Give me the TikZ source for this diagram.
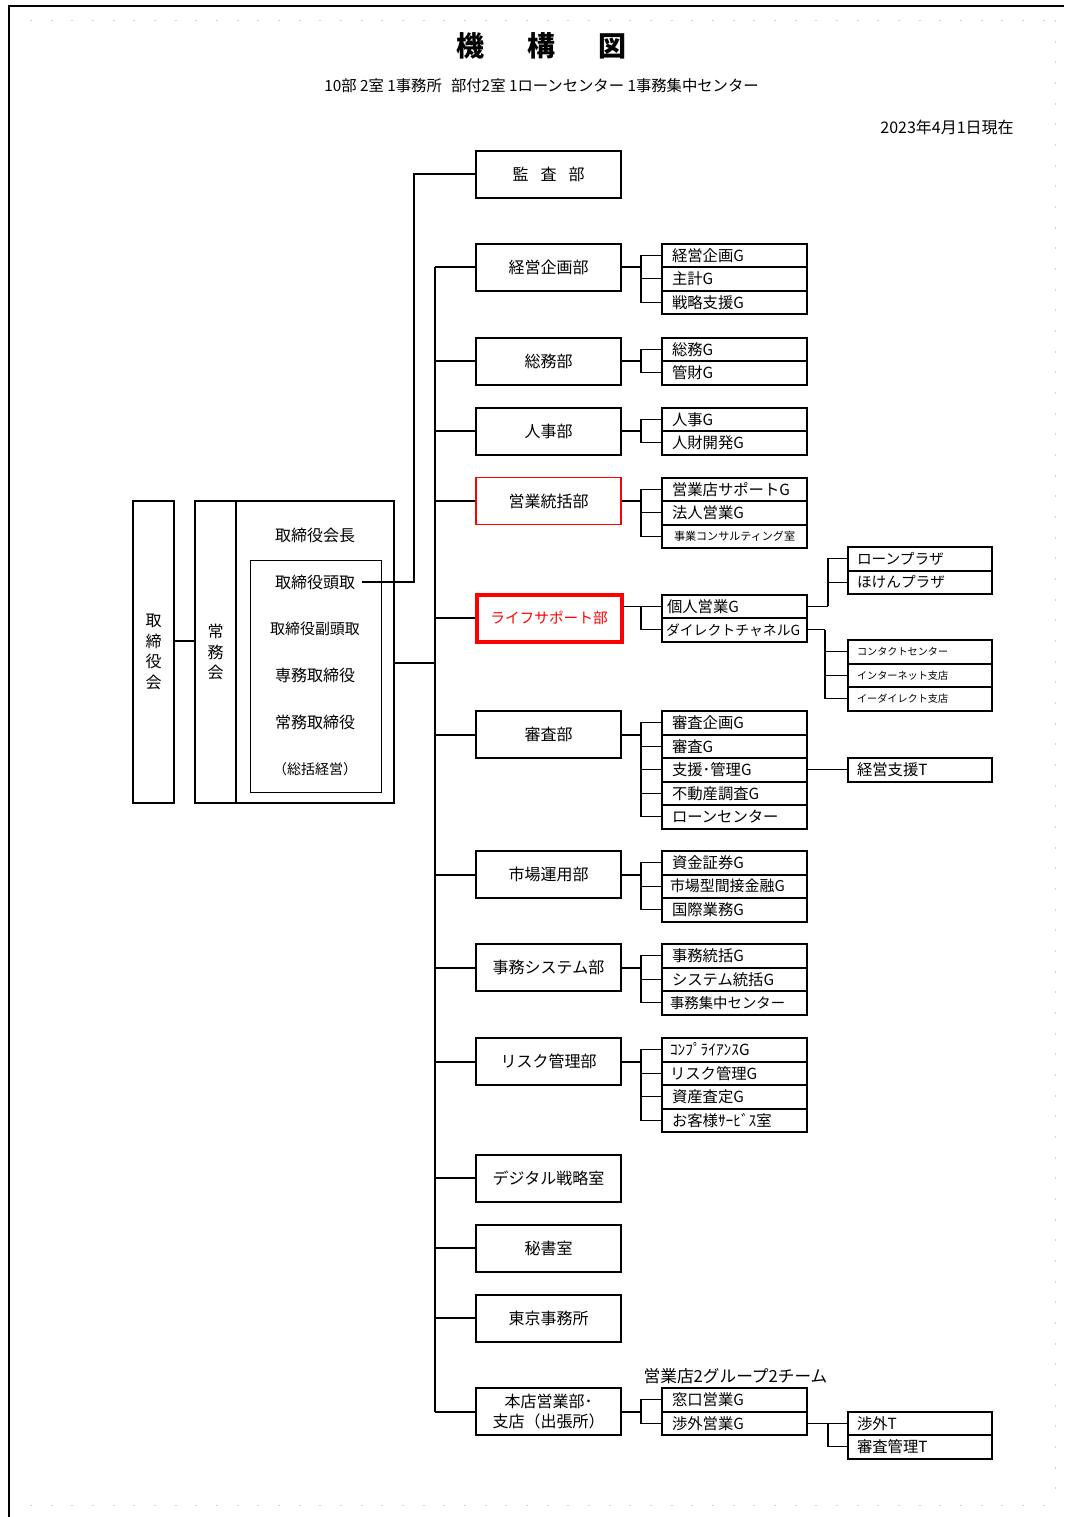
\documentclass[tikz,border=0pt]{standalone}
\usepackage{fontspec}
\setmainfont{Noto Sans CJK JP}
\usetikzlibrary{calc}
\newcommand\szD{\fontsize{12}{14}\selectfont}
\newcommand\szG{\fontsize{11.5}{13}\selectfont}
\newcommand\szS{\fontsize{7.6}{9}\selectfont}
\begin{document}
\begin{tikzpicture}[x=0.75pt,y=-0.75pt,
  dept/.style={draw, line width=1.5pt, minimum width=108.75pt, minimum height=35.25pt, inner sep=0pt, font=\szD},
  grp/.style={draw, line width=1.5pt, minimum width=108.75pt, minimum height=17.625pt, text width=93.75pt, inner xsep=7.5pt, inner ysep=0pt, align=left, font=\szG},
  sub/.style={grp, minimum width=108pt, text width=94.5pt, inner xsep=6.75pt},
  main/.style={line width=1.5pt},
  brk/.style={line width=0.8pt},
  mid/.style={line width=1.1pt},
  txt/.style={inner sep=0pt, font=\szD},
  pgbrk/.style={gray!35, line width=0.6pt, dash pattern=on 1.5pt off 14pt}]
\useasboundingbox (0,0) rectangle (1064,1517);
% frame and page-break marks
\draw[line width=1.8pt] (9,1517) -- (9,6) -- (1064,6);
\draw[pgbrk] (30,20) -- (1050,20);
\draw[pgbrk] (30,1505) -- (1050,1505);
\draw[pgbrk] (1055,20) -- (1055,1505);
% titles
\node (title) at (541.5,46) {\fontsize{21}{24}\selectfont\bfseries 機\hspace{1.55em}構\hspace{1.55em}図};
\node (subtitle) at (541.5,86) {\fontsize{11.5}{13}\selectfont 10部 2室 1事務所\hspace{0.6em}部付2室 1ローンセンター 1事務集中センター};
\node[anchor=east, inner sep=0pt] (date) at (1014,127) {\fontsize{12}{14}\selectfont 2023年4月1日現在};
% left block
\node[draw, main, minimum width=30.75pt, minimum height=226.5pt, inner sep=0pt, align=center, font=\fontsize{12}{15.5}\selectfont] (tbk) at (153.5,652) {取\\締\\役\\会};
\node[draw, main, minimum width=30.75pt, minimum height=226.5pt, inner sep=0pt, align=center, font=\fontsize{12}{15.5}\selectfont] (jmk) at (215.5,652) {常\\務\\会};
\node[draw, main, minimum width=118.5pt, minimum height=226.5pt] (exec) at (315,652) {};
\node[draw, line width=0.75pt, minimum width=98.25pt, minimum height=174pt] (inner) at (315.5,676) {};
\node[txt] (kaicho) at (315,535) {取締役会長};
\node[txt, inner xsep=5pt] (pres) at (315,582) {取締役頭取};
\node[txt, font=\fontsize{11.2}{13}\selectfont] (vpres) at (315,629) {取締役副頭取};
\node[txt] (senmu) at (315,675) {専務取締役};
\node[txt] (jomu) at (315,722) {常務取締役};
\node[txt, font=\fontsize{10.5}{13}\selectfont] (sokatsu) at (315,769) {（総括経営）};
% departments
\node[dept] (kansa) at (548.5,174) {監\hspace{0.75em}査\hspace{0.75em}部};
\node[dept] (keiei) at (548.5,267) {経営企画部};
\node[dept] (somu) at (548.5,361) {総務部};
\node[dept] (jinji) at (548.5,431) {人事部};
\node[dept, draw=red, line width=1.3pt] (eigyo) at (548.5,501) {営業統括部};
\node[dept, draw=red, line width=3pt, text=red, font=\fontsize{11}{13}\selectfont] (life) at (549,618) {ライフサポート部};
\node[dept] (shinsa) at (548.5,734.5) {審査部};
\node[dept] (shijo) at (548.5,874.5) {市場運用部};
\node[dept] (jimu) at (548.5,967.5) {事務システム部};
\node[dept] (risk) at (548.5,1061.5) {リスク管理部};
\node[dept] (digi) at (548.5,1178) {デジタル戦略室};
\node[dept] (hisho) at (548.5,1248) {秘書室};
\node[dept] (tokyo) at (548.5,1318) {東京事務所};
\node[dept, align=center, font=\fontsize{12}{15.5}\selectfont] (honten) at (548.5,1411.5) {本店営業部･\\支店（出張所）};
% groups
\node[grp] (g11) at (734.5,255.25) {経営企画G};
\node[grp] (g12) at (734.5,278.75) {主計G};
\node[grp] (g13) at (734.5,302.25) {戦略支援G};
\node[grp] (g21) at (734.5,349.25) {総務G};
\node[grp] (g22) at (734.5,372.75) {管財G};
\node[grp] (g31) at (734.5,419.25) {人事G};
\node[grp] (g32) at (734.5,442.75) {人財開発G};
\node[grp] (g41) at (734.5,489.25) {営業店サポートG};
\node[grp] (g42) at (734.5,512.75) {法人営業G};
\node[grp, font=\fontsize{8.3}{10}\selectfont, inner xsep=9pt, text width=90.75pt] (g43) at (734.5,536.25) {事業コンサルティング室};
\node[grp, inner xsep=3.75pt, text width=101.25pt] (g51) at (734.5,606.25) {個人営業G};
\node[grp, inner xsep=3pt, text width=102.75pt, font=\fontsize{10.4}{12}\selectfont] (g52) at (734.5,629.75) {ダイレクトチャネルG};
\node[grp] (g71) at (734.5,722.75) {審査企画G};
\node[grp] (g72) at (734.5,746.25) {審査G};
\node[grp] (g73) at (734.5,769.75) {支援･管理G};
\node[grp] (g74) at (734.5,793.25) {不動産調査G};
\node[grp] (g75) at (734.5,816.75) {ローンセンター};
\node[grp] (g81) at (734.5,862.75) {資金証券G};
\node[grp, inner xsep=6pt, text width=96.75pt, font=\fontsize{11.2}{13}\selectfont] (g82) at (734.5,886.25) {市場型間接金融G};
\node[grp] (g83) at (734.5,909.75) {国際業務G};
\node[grp] (g91) at (734.5,955.75) {事務統括G};
\node[grp] (g92) at (734.5,979.25) {システム統括G};
\node[grp, inner xsep=6pt, text width=96.75pt, font=\fontsize{10.8}{13}\selectfont] (g93) at (734.5,1002.75) {事務集中センター};
\node[grp, inner xsep=6pt, text width=96.75pt] (g101) at (734.5,1049.75) {ｺﾝﾌﾟﾗｲｱﾝｽG};
\node[grp, inner xsep=6pt, text width=96.75pt] (g102) at (734.5,1073.25) {リスク管理G};
\node[grp] (g103) at (734.5,1096.75) {資産査定G};
\node[grp] (g104) at (734.5,1120.25) {お客様ｻｰﾋﾞｽ室};
\node[grp] (g141) at (734.5,1399.75) {窓口営業G};
\node[grp] (g142) at (734.5,1423.25) {渉外営業G};
\node[font=\fontsize{12.5}{14}\selectfont, inner sep=0pt] (tenlabel) at (735.5,1376) {営業店2グループ2チーム};
% third level
\node[sub, font=\fontsize{11}{13}\selectfont] (lp) at (920,558.75) {ローンプラザ};
\node[sub, font=\fontsize{11}{13}\selectfont] (hp) at (920,582.25) {ほけんプラザ};
\node[sub, font=\szS] (ct) at (920,651.75) {コンタクトセンター};
\node[sub, font=\szS] (is) at (920,675.25) {インターネット支店};
\node[sub, font=\szS] (id) at (920,698.75) {イーダイレクト支店};
\node[sub] (kst) at (920,769.75) {経営支援T};
\node[sub] (sgt) at (920,1423.25) {渉外T};
\node[sub] (sst) at (920,1446.75) {審査管理T};
% helper x-positions
\coordinate (spx) at (435,0);
\coordinate (kx) at (414,0);
\coordinate (bx) at (641,0);
\coordinate (cx1) at (828,0);
\coordinate (cx2) at (825,0);
% spine
\draw[main] (keiei.west -| spx) -- (honten.west -| spx);
\foreach \d in {keiei,somu,jinji,eigyo,life,shinsa,shijo,jimu,risk,digi,hisho,tokyo,honten}
  {\draw[main] (\d.west -| spx) -- (\d.west);}
\draw[main] ([yshift=-8.25pt]exec.east) -- ([yshift=-8.25pt]exec.east -| spx);
\draw[main] ([yshift=8.25pt]tbk.east) -- ([yshift=8.25pt]jmk.west);
\draw[mid] (pres.east) -| (kansa.west -| kx) -- (kansa.west);
% dept to group brackets
\foreach \d/\rows in {keiei/{g11,g12,g13}, somu/{g21,g22}, jinji/{g31,g32}, eigyo/{g41,g42,g43},
   shinsa/{g71,g72,g73,g74,g75}, shijo/{g81,g82,g83}, jimu/{g91,g92,g93},
   risk/{g101,g102,g103,g104}, honten/{g141,g142}}
  {\draw[main] (\d.east) -- (\d.east -| bx);
   \foreach \r in \rows {\draw[brk] (\d.east -| bx) |- (\r.west);}}
\draw[mid] (g51.west -| life.east) -- (g51.west);
\draw[brk] (g51.west -| bx) |- (g52.west);
% third level connectors
\draw[mid] (g51.east) -- (g51.east -| cx1);
\draw[brk] (g51.east -| cx1) |- (lp.west);
\draw[brk] (g51.east -| cx1) |- (hp.west);
\draw[mid] (g52.east) -- (g52.east -| cx2);
\foreach \r in {ct,is,id} {\draw[brk] (g52.east -| cx2) |- (\r.west);}
\draw[brk] (g73.east) -- (kst.west);
\draw[mid] (g142.east) -- (sgt.west);
\draw[brk] (g142.east -| cx1) |- (sst.west);
\end{tikzpicture}
\end{document}
